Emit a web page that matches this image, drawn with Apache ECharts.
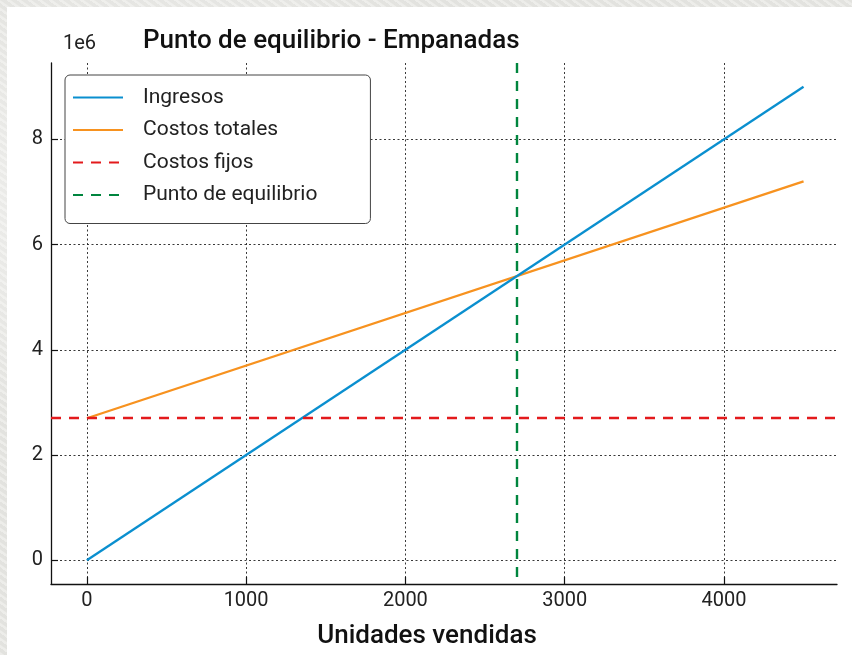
<!DOCTYPE html>
<html>
<head>
<meta charset="utf-8">
<script src="https://cdn.jsdelivr.net/npm/echarts@6/dist/echarts.min.js"></script>
<style>
  html, body { margin: 0; padding: 0; width: 852px; height: 655px; overflow: hidden; }
  body {
    background-color: #e7e7e3;
    background-image:
      radial-gradient(ellipse at 20% 30%, rgba(255,255,255,0.5) 0%, rgba(255,255,255,0) 40%),
      radial-gradient(ellipse at 80% 70%, rgba(210,210,205,0.5) 0%, rgba(210,210,205,0) 45%),
      repeating-linear-gradient(35deg, rgba(255,255,255,0.25) 0px, rgba(255,255,255,0.25) 2px, rgba(0,0,0,0.02) 3px, rgba(0,0,0,0.02) 6px);
  }
  #card { position: absolute; left: 7px; top: 7px; right: 0; bottom: 0; background: #ffffff; }
  #chart { position: absolute; left: 0; top: 0; width: 852px; height: 655px; }
</style>
</head>
<body>
<div id="card"></div>
<div id="chart"></div>
<script>
// ---- Data ----
const units = [0, 4500];
const ingresos = [0, 9000000];
const costosTotales = [2700000, 7200000];
const costosFijos = 2700000;
const puntoEquilibrio = 2700;
const xTicks = [0, 1000, 2000, 3000, 4000];
const yTicks = [0, 2, 4, 6, 8];          // in units of 1e6
const yScale = 1e6;
const seriesNames = ['Ingresos', 'Costos totales', 'Costos fijos', 'Punto de equilibrio'];

const colors = { blue: '#0a8fcf', orange: '#f7921f', red: '#e31a1c', green: '#00853e' };
const FONT = 'Roboto, "Noto Sans", sans-serif';

const chart = echarts.init(document.getElementById('chart'), null, { renderer: 'canvas' });

const option = {
  backgroundColor: 'transparent',
  animation: false,
  textStyle: { fontFamily: FONT },
  title: [
    {
      text: 'Punto de equilibrio - Empanadas',
      left: 143, top: 28, padding: 0,
      textStyle: { fontFamily: FONT, fontSize: 26, fontWeight: 500, color: '#111' }
    },
    {
      text: '1e' + Math.log10(yScale),
      left: 63, top: 34, padding: 0,
      textStyle: { fontFamily: FONT, fontSize: 20, fontWeight: 'normal', color: '#222' }
    }
  ],
  legend: {
    show: true,
    data: seriesNames,
    orient: 'vertical',
    left: 65, top: 75,
    padding: [12, 53, 18, 7],
    itemWidth: 50,
    itemHeight: 14,
    itemGap: 11.5,
    backgroundColor: '#ffffff',
    borderColor: '#444',
    borderWidth: 1,
    borderRadius: 5,
    itemStyle: { opacity: 0 },
    textStyle: { fontFamily: FONT, fontSize: 21, color: '#222', padding: [0, 0, 0, 15] }
  },
  grid: { left: 51, right: 15, top: 63, bottom: 71, containLabel: false },
  xAxis: {
    type: 'value',
    min: -225, max: 4710,
    name: 'Unidades vendidas',
    nameLocation: 'middle',
    nameGap: 39,
    nameTextStyle: { fontFamily: FONT, fontSize: 26, fontWeight: 500, color: '#111', padding: [0, 34, 0, 0] },
    axisLine: { show: true, onZero: false, lineStyle: { color: '#111', width: 1.3 } },
    axisTick: { show: true, inside: true, length: 7, customValues: xTicks, lineStyle: { color: '#111', width: 1.2 } },
    axisLabel: { show: true, customValues: xTicks, margin: 7, fontFamily: FONT, fontSize: 20, color: '#222',
      formatter: v => String(v) },
    splitLine: { show: true, lineStyle: { color: '#222', width: 0.9, type: [2, 2.5] } }
  },
  yAxis: {
    type: 'value',
    min: -0.45 * yScale, max: 9.45 * yScale,
    axisLine: { show: true, onZero: false, lineStyle: { color: '#111', width: 1.3 } },
    axisTick: { show: true, inside: true, length: 7, customValues: yTicks.map(v => v * yScale), lineStyle: { color: '#111', width: 1.2 } },
    axisLabel: { show: true, customValues: yTicks.map(v => v * yScale), margin: 8, fontFamily: FONT, fontSize: 20, color: '#222',
      formatter: v => String(Math.round(v / yScale)) },
    splitLine: { show: true, lineStyle: { color: '#222', width: 0.9, type: [2, 2.5] } }
  },
  series: [
    {
      name: seriesNames[0], type: 'line', symbol: 'none', z: 4,
      data: units.map((u, i) => [u, ingresos[i]]),
      lineStyle: { color: colors.blue, width: 2.3 }, itemStyle: { color: colors.blue },
      emphasis: { disabled: true }
    },
    {
      name: seriesNames[1], type: 'line', symbol: 'none', z: 3,
      data: units.map((u, i) => [u, costosTotales[i]]),
      lineStyle: { color: colors.orange, width: 2.3 }, itemStyle: { color: colors.orange },
      emphasis: { disabled: true }
    },
    {
      name: seriesNames[2], type: 'line', symbol: 'none', z: 2,
      data: [],
      lineStyle: { color: colors.red, width: 2.4, type: [10, 8] }, itemStyle: { color: colors.red },
      markLine: {
        silent: true, symbol: ['none', 'none'], label: { show: false },
        lineStyle: { color: colors.red, width: 2.4, type: [10, 8] },
        emphasis: { disabled: true },
        data: [{ yAxis: costosFijos }]
      }
    },
    {
      name: seriesNames[3], type: 'line', symbol: 'none', z: 2,
      data: [],
      lineStyle: { color: colors.green, width: 2.4, type: [10, 8] }, itemStyle: { color: colors.green },
      markLine: {
        silent: true, symbol: ['none', 'none'], label: { show: false },
        lineStyle: { color: colors.green, width: 2.4, type: [10, 8], dashOffset: 11 },
        emphasis: { disabled: true },
        data: [{ xAxis: puntoEquilibrio }]
      }
    }
  ]
};
chart.setOption(option);
</script>
</body>
</html>
